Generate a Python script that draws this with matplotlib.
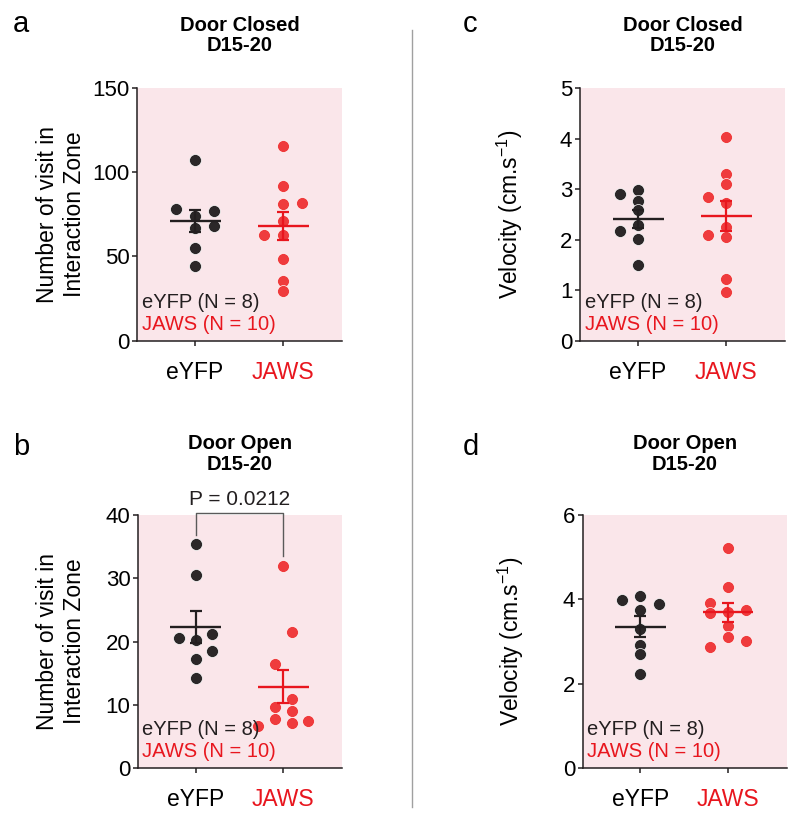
import numpy as np
import matplotlib
matplotlib.use("Agg")
import matplotlib.pyplot as plt

plt.rcParams['font.family'] = ['Liberation Sans', 'DejaVu Sans']
plt.rcParams['mathtext.default'] = 'regular'

# ---------------- data ----------------
groups = ["eYFP", "JAWS"]
legend_eyfp = "eYFP (N = 8)"
legend_jaws = "JAWS (N = 10)"

# a: Door Closed, visits
a_eyfp = [107.1, 78.3, 76.8, 74.0, 67.1, 67.9, 54.8, 44.3]
a_jaws = [115.7, 91.8, 81.3, 81.7, 71.0, 62.7, 62.5, 48.7, 35.6, 29.5]
# b: Door Open, visits
b_eyfp = [35.4, 30.6, 20.6, 21.2, 20.3, 18.5, 17.3, 14.2]
b_jaws = [32.0, 21.5, 16.4, 10.9, 9.7, 9.0, 7.8, 7.2, 7.5, 6.7]
# c: Door Closed, velocity
c_eyfp = [2.905, 2.99, 2.77, 2.58, 2.29, 2.17, 2.02, 1.49]
c_jaws = [4.03, 3.29, 3.11, 2.85, 2.72, 2.10, 2.24, 2.05, 1.23, 0.97]
# d: Door Open, velocity
d_eyfp = [3.98, 4.09, 3.90, 3.75, 3.29, 2.91, 2.70, 2.24]
d_jaws = [5.21, 4.30, 3.92, 3.68, 3.71, 3.75, 3.37, 3.10, 2.87, 3.01]

# horizontal scatter slots (in units of dot spacing), as in the swarm layout
a_eyfp_slot = [0, -1, 1, 0, 0, 1, 0, 0]
a_jaws_slot = [0, 0, 0, 1, 0, -1, 0, 0, 0, 0]
b_eyfp_slot = [0, 0, -1, 1, 0, 1, 0, 0]
b_jaws_slot = [0, 0.5, -0.5, 0.5, -0.5, 0.5, -0.5, 0.5, 1.5, -1.5]
c_eyfp_slot = [-1, 0, 0, 0, 0, -1, 0, 0]
c_jaws_slot = [0, 0, 0, -1, 0, -1, 0, 0, 0, 0]
d_eyfp_slot = [-1, 0, 1, 0, 0, 0, 0, 0]
d_jaws_slot = [0, 0, -1, -1, 0, 1, 0, 0, -1, 1]

p_text = "P = 0.0212"

# ---------------- style ----------------
W, H = 800, 821
BLACK = '#231F20'
DOT_BLACK = '#2B2728'
RED = '#E8161E'
DOT_RED = '#EF3B3D'
PINK = '#FAE6EA'

fig = plt.figure(figsize=(W / 100, H / 100), dpi=100)


def fx(px):
    return px / W


def fy(py):
    return 1 - py / H


def make_axes(left, right, top, bottom):
    return fig.add_axes([fx(left), fy(bottom), fx(right - left), (bottom - top) / H])


panels = [
    dict(rect=(137, 342, 88, 340.7), e=a_eyfp, j=a_jaws, es=a_eyfp_slot, js=a_jaws_slot,
         ylim=150, yticks=[0, 50, 100, 150], step=0.215,
         title="Door Closed\nD15-20", title_y=35.5, letter="a", letter_x=21, letter_y=32,
         ylabel="Number of visit in\nInteraction Zone", ylabel_x=61),
    dict(rect=(138, 342, 515, 768.3), e=b_eyfp, j=b_jaws, es=b_eyfp_slot, js=b_jaws_slot,
         ylim=40, yticks=[0, 10, 20, 30, 40], step=0.19,
         title="Door Open\nD15-20", title_y=453.7, letter="b", letter_x=21, letter_y=455,
         ylabel="Number of visit in\nInteraction Zone", ylabel_x=61),
    dict(rect=(580, 785, 88, 340.7), e=c_eyfp, j=c_jaws, es=c_eyfp_slot, js=c_jaws_slot,
         ylim=5, yticks=[0, 1, 2, 3, 4, 5], step=0.21,
         title="Door Closed\nD15-20", title_y=35.5, letter="c", letter_x=470, letter_y=32,
         ylabel="Velocity (cm.s$^{-1}$)", ylabel_x=510),
    dict(rect=(582.7, 786.7, 515, 768.3), e=d_eyfp, j=d_jaws, es=d_eyfp_slot, js=d_jaws_slot,
         ylim=6, yticks=[0, 2, 4, 6], step=0.21,
         title="Door Open\nD15-20", title_y=453.7, letter="d", letter_x=471, letter_y=455,
         ylabel="Velocity (cm.s$^{-1}$)", ylabel_x=511),
]

axes = []
for p in panels:
    left, right, top, bottom = p['rect']
    ax = make_axes(left, right, top, bottom)
    axes.append(ax)
    ax.set_facecolor(PINK)
    ax.set_xlim(0.34, 2.67)
    ax.set_ylim(0, p['ylim'])
    ax.set_yticks(p['yticks'])
    ax.set_xticks([1, 2])
    ax.set_xticklabels(groups)
    ax.get_xticklabels()[1].set_color(RED)
    for s in ['top', 'right']:
        ax.spines[s].set_visible(False)
    for s in ['left', 'bottom']:
        ax.spines[s].set_color(BLACK)
        ax.spines[s].set_linewidth(1.1)
    ax.tick_params(axis='y', labelsize=16, length=3.5, width=1.1, color=BLACK, pad=2)
    ax.tick_params(axis='x', labelsize=16.5, length=3.5, width=1.1, color=BLACK, pad=11)

    for xi, vals, slots, dcol, lcol in [(1, p['e'], p['es'], DOT_BLACK, BLACK),
                                         (2, p['j'], p['js'], DOT_RED, RED)]:
        vals = np.asarray(vals, dtype=float)
        xs = xi + np.asarray(slots, dtype=float) * p['step']
        ax.scatter(xs, vals, s=74, color=dcol, edgecolors='white', linewidths=0.5,
                   zorder=3, clip_on=False)
        m = vals.mean()
        sem = vals.std(ddof=1) / np.sqrt(len(vals))
        ax.hlines(m, xi - 0.29, xi + 0.29, color=lcol, lw=1.7, zorder=4)
        ax.errorbar([xi], [m], yerr=[sem], color=lcol, lw=1.6, capsize=4.3,
                    capthick=1.6, zorder=4, fmt='none')

    ax.text(0.022, 0.153, legend_eyfp, transform=ax.transAxes, fontsize=14.5,
            color=BLACK, ha='left', va='center', zorder=5)
    ax.text(0.022, 0.066, legend_jaws, transform=ax.transAxes, fontsize=14.5,
            color=RED, ha='left', va='center', zorder=5)

    cx = (left + right) / 2
    fig.text(fx(cx), fy(p['title_y']), p['title'], fontsize=14.5, fontweight='bold',
             ha='center', va='center', linespacing=1.12, color='black')
    fig.text(fx(p['letter_x']), fy(p['letter_y']), p['letter'], fontsize=21,
             ha='center', va='baseline', color='black')
    fig.text(fx(p['ylabel_x']), fy((top + bottom) / 2), p['ylabel'], fontsize=16.5,
             rotation=90, ha='center', va='center', linespacing=1.2, color='black')

# significance bracket on panel b
axb = axes[1]
gray = '#5a5a5a'
axb.plot([1, 1, 2, 2], [36.8, 40.3, 40.3, 33.6], color=gray, lw=1.0, clip_on=False, zorder=5)
axb.text(1.5, 42.4, p_text, ha='center', va='center', fontsize=15, color=BLACK)

# vertical separator
fig.add_artist(plt.Line2D([fx(412), fx(412)], [fy(30), fy(807)], color='#a0a0a0', lw=1.0))

fig.savefig("out.png", dpi=100)
